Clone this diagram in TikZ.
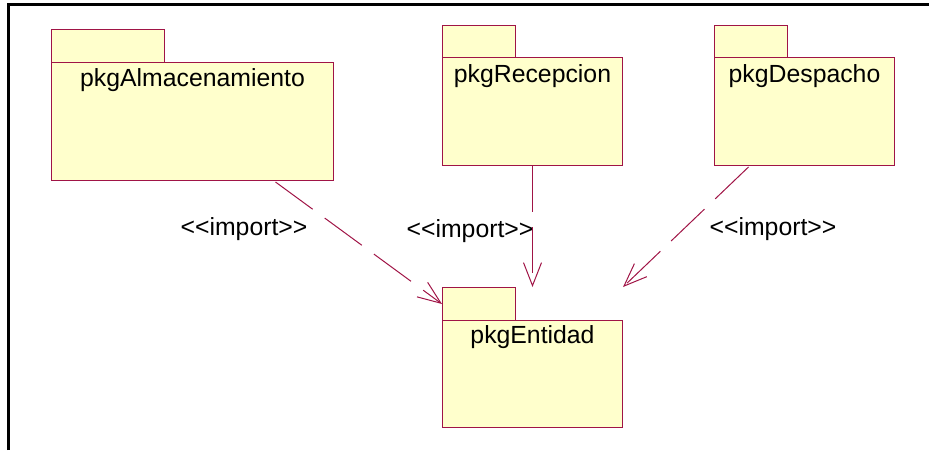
\documentclass[tikz,border=0pt]{standalone}
\usepackage{fontspec}
\setmainfont{Liberation Sans}
\usetikzlibrary{calc}
\usetikzlibrary{arrows.meta,positioning}

\definecolor{pkgfill}{RGB}{255,255,204}
\definecolor{pkgline}{RGB}{160,20,70}

\tikzset{
  pkgtab/.style={rectangle,anchor=north west,inner sep=0pt,fill=pkgfill,draw=pkgline,line width=0.5pt},
  pkgbody/.style={rectangle,anchor=north west,inner sep=0pt,fill=pkgfill,draw=pkgline,line width=0.5pt},
  pkgname/.style={font=\fontsize{12.4}{15}\selectfont,inner sep=0pt},
  importarrow/.style={draw=pkgline,line width=0.5pt,dash pattern=on 23pt off 7.5pt,
    -{Straight Barb[length=11.5pt,width=9pt,line width=0.5pt]}}
}

\begin{document}
\begin{tikzpicture}[x=0.5pt,y=-0.5pt]

\useasboundingbox (0,0) rectangle (929,450);
\coordinate (LEFTCORNER) at (0,0);

% draw frame
\draw[line width=1.5pt] (LEFTCORNER) ++(8,450) -- ++(0,-446) -- ++(921,0);

%%%%%%%%%%%%%%%%%%%%%

%draw package Almacenamiento
\node[pkgtab,minimum width=56.5pt,minimum height=16.5pt] at ($(LEFTCORNER)+(51,29)$) (ALMTAB) {};
\node[pkgbody,minimum width=141pt,minimum height=59pt] at ($(LEFTCORNER)+(51,62)$) (ALMBODY) {};
\node[pkgname] at ($(ALMBODY.north)+(0,18)$) (ALMNAME) {pkgAlmacenamiento};

%draw package Recepcion
\node[pkgtab,minimum width=36.5pt,minimum height=16pt] at ($(LEFTCORNER)+(442,25)$) (RECTAB) {};
\node[pkgbody,minimum width=90pt,minimum height=54pt] at ($(LEFTCORNER)+(442,57)$) (RECBODY) {};
\node[pkgname] at ($(RECBODY.north)+(0,19)$) (RECNAME) {pkgRecepcion};

%draw package Despacho
\node[pkgtab,minimum width=36.5pt,minimum height=16pt] at ($(LEFTCORNER)+(714,25)$) (DESTAB) {};
\node[pkgbody,minimum width=90pt,minimum height=54pt] at ($(LEFTCORNER)+(714,57)$) (DESBODY) {};
\node[pkgname] at ($(DESBODY.north)+(0,19)$) (DESNAME) {pkgDespacho};

%draw package Entidad
\node[pkgtab,minimum width=36.5pt,minimum height=16.5pt] at ($(LEFTCORNER)+(442,287)$) (ENTTAB) {};
\node[pkgbody,minimum width=90pt,minimum height=53.5pt] at ($(LEFTCORNER)+(442,320)$) (ENTBODY) {};
\node[pkgname] at ($(ENTBODY.north)+(0,17)$) (ENTNAME) {pkgEntidad};

%%%%%%%%%%%%%%%%%%%
%draw import arrows

\coordinate (ALMOUT) at ($(ALMBODY.south)+(83,1)$);
\coordinate (DESOUT) at ($(DESBODY.south)+(-56,1)$);
\coordinate (ENTTOP) at (ENTBODY.north |- ENTTAB.north);
\coordinate (ENTCORNER) at (ENTBODY.east |- ENTTAB.north);

\draw[importarrow] (ALMOUT) -- (ENTTAB.west);
\draw[importarrow] (RECBODY.south) -- (ENTTOP);
\draw[importarrow] (DESOUT) -- (ENTCORNER);

\node[pkgname] at ($(LEFTCORNER)+(244,229)$) (IMPORT1) {<{}<import>{}>};
\node[pkgname] at ($(LEFTCORNER)+(470,231)$) (IMPORT2) {<{}<import>{}>};
\node[pkgname] at ($(LEFTCORNER)+(773,229)$) (IMPORT3) {<{}<import>{}>};

%%%%%%%%%%%%%%%%%%%%%%

\end{tikzpicture}
\end{document}
